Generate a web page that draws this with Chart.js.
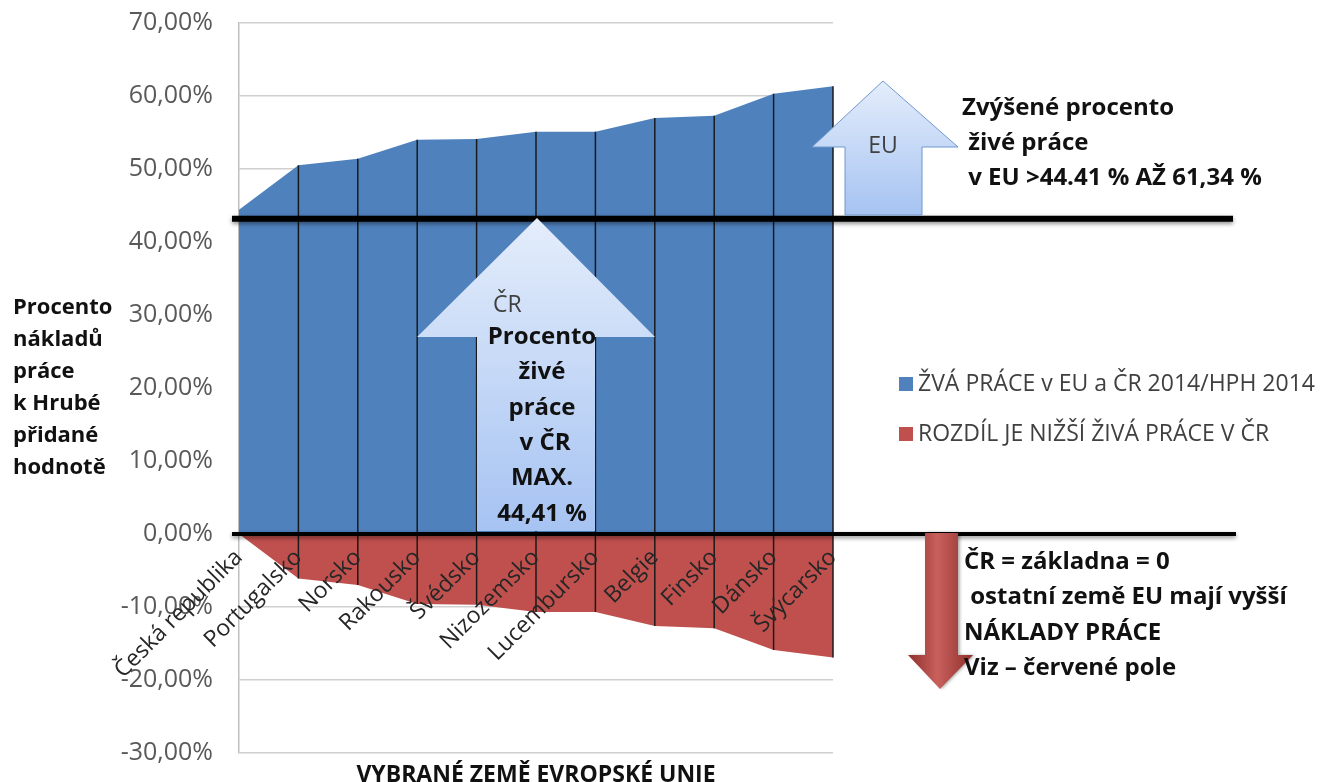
<!DOCTYPE html>
<html>
<head>
<meta charset="utf-8">
<script src="https://cdn.jsdelivr.net/npm/chart.js@4.4.0/dist/chart.umd.min.js"></script>
<style>
  html, body { margin: 0; padding: 0; background: #fff; }
</style>
</head>
<body>
<canvas id="myChart" width="1327" height="782"></canvas>
<script>
// data
var countries = ["Česká republika", "Portugalsko", "Norsko", "Rakousko", "Švédsko", "Nizozemsko", "Lucembursko", "Belgie", "Finsko", "Dánsko", "Švýcarsko"];
var zivaPrace = [44.41, 50.5, 51.4, 54.0, 54.1, 55.1, 55.1, 57.0, 57.3, 60.3, 61.34];
var rozdil = [0, -6.1, -7.0, -9.6, -9.7, -10.7, -10.7, -12.6, -12.9, -15.9, -16.93];
var yMin = -30, yMax = 70, yStep = 10;
var crLevel = 43.2;

var blue = '#4F81BD';
var red = '#C0504D';
var fontName = 'Open Sans';

Chart.defaults.font.family = fontName;

function upArrow(ctx, a, fill, stroke) {
  ctx.beginPath();
  ctx.moveTo(a.tipX, a.tipY);
  ctx.lineTo(a.headR, a.shoulder);
  ctx.lineTo(a.shaftR, a.shoulder);
  ctx.lineTo(a.shaftR, a.bottom);
  ctx.lineTo(a.shaftL, a.bottom);
  ctx.lineTo(a.shaftL, a.shoulder);
  ctx.lineTo(a.headL, a.shoulder);
  ctx.closePath();
  ctx.fillStyle = fill;
  ctx.fill();
  if (stroke) {
    ctx.strokeStyle = stroke;
    ctx.lineWidth = 1;
    ctx.stroke();
  }
}

function blueGrad(ctx, top, bottom) {
  var g = ctx.createLinearGradient(0, top, 0, bottom);
  g.addColorStop(0, '#e4edfb');
  g.addColorStop(1, '#a6c3f2');
  return g;
}

function thickLine(ctx, x1, x2, y, w) {
  ctx.save();
  ctx.shadowColor = 'rgba(0,0,0,0.45)';
  ctx.shadowBlur = 4;
  ctx.shadowOffsetY = 2;
  ctx.strokeStyle = '#000';
  ctx.lineWidth = w;
  ctx.beginPath();
  ctx.moveTo(x1, y);
  ctx.lineTo(x2, y);
  ctx.stroke();
  ctx.restore();
}

function lines(ctx, arr, x, y0, dy, align) {
  ctx.textAlign = align;
  for (var i = 0; i < arr.length; i++) {
    ctx.fillText(arr[i], x, y0 + i * dy);
  }
}

var extras = {
  id: 'extras',
  afterDatasetsDraw: function (chart) {
    var ctx = chart.ctx;
    var xs = chart.scales.x, ys = chart.scales.y;
    ctx.save();
    // drop lines at each country
    ctx.strokeStyle = '#1a1a1a';
    ctx.lineWidth = 1.5;
    for (var i = 1; i < countries.length; i++) {
      var x = xs.getPixelForValue(i);
      ctx.beginPath();
      ctx.moveTo(x, ys.getPixelForValue(zivaPrace[i]));
      ctx.lineTo(x, ys.getPixelForValue(rozdil[i]));
      ctx.stroke();
    }
    var left = chart.chartArea.left - 7;
    thickLine(ctx, left, 1233, ys.getPixelForValue(crLevel), 6);
    thickLine(ctx, left, 1236, ys.getPixelForValue(0), 4);

    // EU arrow
    upArrow(ctx, {tipX: 883, tipY: 81, headL: 812, headR: 958, shoulder: 147, shaftL: 845, shaftR: 922, bottom: 215},
      blueGrad(ctx, 81, 215), '#6f97cf');
    // CR arrow
    upArrow(ctx, {tipX: 537, tipY: 218, headL: 417, headR: 655, shoulder: 337, shaftL: 477, shaftR: 595, bottom: 531},
      blueGrad(ctx, 218, 531), null);
    // red arrow down
    var rg = ctx.createLinearGradient(908, 0, 973, 0);
    rg.addColorStop(0, '#8e2f2c');
    rg.addColorStop(0.45, '#c9605c');
    rg.addColorStop(1, '#8e2f2c');
    ctx.save();
    ctx.shadowColor = 'rgba(0,0,0,0.3)';
    ctx.shadowBlur = 3;
    ctx.shadowOffsetX = 2;
    ctx.beginPath();
    ctx.moveTo(925, 533);
    ctx.lineTo(958, 533);
    ctx.lineTo(958, 655);
    ctx.lineTo(973, 655);
    ctx.lineTo(940, 689);
    ctx.lineTo(908, 655);
    ctx.lineTo(925, 655);
    ctx.closePath();
    ctx.fillStyle = rg;
    ctx.fill();
    ctx.restore();

    // texts
    ctx.textBaseline = 'middle';
    ctx.fillStyle = '#404040';
    ctx.font = '23px ' + fontName;
    ctx.textAlign = 'center';
    ctx.fillText('EU', 883, 146);
    ctx.textAlign = 'left';
    ctx.fillText('ČR', 493, 305);

    ctx.fillStyle = '#111';
    ctx.font = 'bold 24px ' + fontName;
    lines(ctx, ['Procento', 'živé', 'práce', ' v ČR', 'MAX.', '44,41 %'], 542, 337, 35.4, 'center');
    lines(ctx, ['Zvýšené procento', ' živé práce', ' v EU >44.41 % AŽ 61,34 %'], 962, 108, 35, 'left');
    lines(ctx, ['ČR = základna = 0', ' ostatní země EU mají vyšší', 'NÁKLADY PRÁCE', 'Viz – červené pole'], 964, 562, 35.5, 'left');
    ctx.font = 'bold 22px ' + fontName;
    lines(ctx, ['Procento', 'nákladů', 'práce', 'k Hrubé', 'přidané', 'hodnotě'], 13, 308, 32, 'left');
    ctx.font = 'bold 23px ' + fontName;
    ctx.textAlign = 'center';
    ctx.fillText('VYBRANÉ ZEMĚ EVROPSKÉ UNIE', (chart.chartArea.left + chart.chartArea.right) / 2, 775);

    // legend
    var ds = chart.data.datasets;
    ctx.font = '23px ' + fontName;
    ctx.textAlign = 'left';
    for (var k = 0; k < ds.length; k++) {
      var ly = 384 + k * 50;
      ctx.fillStyle = ds[k].backgroundColor;
      ctx.fillRect(899, ly - 7, 14, 14);
      ctx.fillStyle = '#404040';
      ctx.fillText(ds[k].label, 918, ly);
    }
    ctx.restore();
  }
};

new Chart(document.getElementById('myChart'), {
  type: 'line',
  data: {
    labels: countries,
    datasets: [{
      label: 'ŽVÁ PRÁCE v EU a ČR 2014/HPH 2014',
      data: zivaPrace,
      backgroundColor: blue,
      borderWidth: 0,
      pointRadius: 0,
      fill: 'origin',
      tension: 0
    }, {
      label: 'ROZDÍL JE NIŽŠÍ ŽIVÁ PRÁCE V ČR',
      data: rozdil,
      backgroundColor: red,
      borderWidth: 0,
      pointRadius: 0,
      fill: 'origin',
      tension: 0
    }]
  },
  options: {
    responsive: false,
    animation: false,
    devicePixelRatio: 1,
    layout: { padding: { left: 0, right: 494, top: 23, bottom: 29 } },
    plugins: { legend: { display: false }, tooltip: { enabled: false } },
    scales: {
      x: {
        position: { y: 0 },
        offset: false,
        afterFit: function (scale) { scale.paddingLeft = 0; scale.paddingRight = 0; scale.paddingTop = 0; scale.paddingBottom = 0; },
        grid: { display: false },
        border: { display: false },
        ticks: {
          z: 1,
          minRotation: 45,
          maxRotation: 45,
          autoSkip: false,
          padding: 2,
          color: '#262626',
          font: { size: 23 }
        }
      },
      y: {
        min: yMin,
        max: yMax,
        afterFit: function (scale) { scale.width = 239; scale.paddingTop = 0; scale.paddingBottom = 0; },
        grid: { color: '#cfcfcf', lineWidth: 1.5, drawTicks: false },
        border: { color: '#bfbfbf', width: 1.5 },
        ticks: {
          stepSize: yStep,
          padding: 26,
          color: '#595959',
          font: { size: 25 },
          callback: function (v) { return v.toFixed(2).replace('.', ',') + '%'; }
        }
      }
    }
  },
  plugins: [extras]
});
</script>
</body>
</html>
